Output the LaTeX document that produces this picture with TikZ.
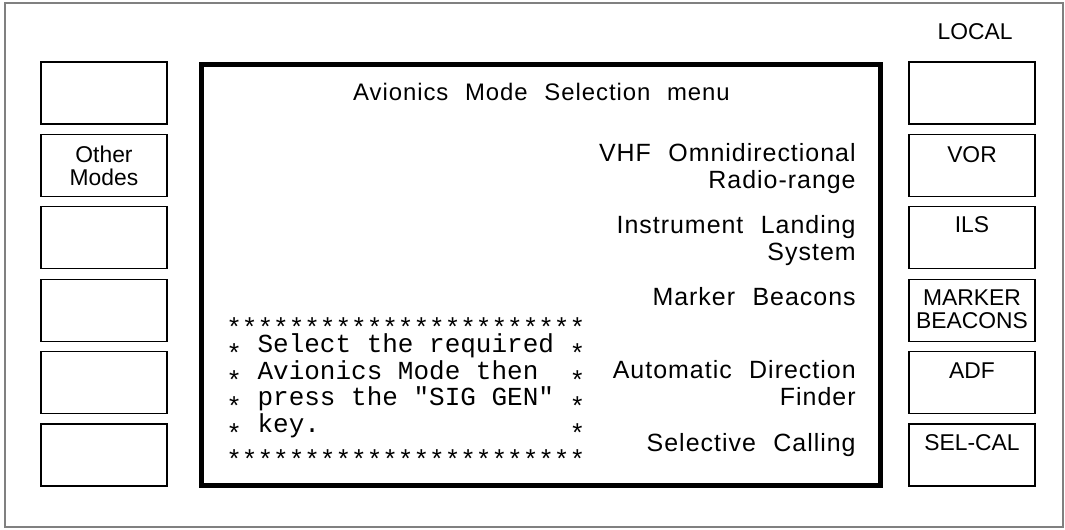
\documentclass[tikz,border=0pt]{standalone}
\usepackage{fontspec}
\setmainfont{Liberation Sans}
\setmonofont{Liberation Mono}
\newfontfamily\menufont{Liberation Sans}[LetterSpace=4, WordSpace=2.2]
\usetikzlibrary{positioning}

\newcommand{\lowstar}{\raisebox{-0.38em}[0.5em][0pt]{*}}
\newcommand{\starrow}{\foreach \k in {1,...,23}{\lowstar}}

\begin{document}
\begin{tikzpicture}[
			x = 0.02cm, y = -0.02cm,
			every node/.style = {inner sep = 0pt},
			softkey/.style = {draw, line width = 0.75pt, minimum width = 2.52cm, minimum height = 1.24cm},
			keytext/.style = {anchor = north, align = center, font = \fontsize{13}{12.8}\selectfont},
			menutext/.style = {anchor = north east, align = right, font = \menufont\fontsize{14.2}{15.4}\selectfont}
			]

			\useasboundingbox (0,0) rectangle (1065,529);
			\draw[gray, line width = 0.75pt] (5,3) rectangle (1063,527);

			% soft keys either side of the screen
			\foreach \i in {1,...,6}{
				\node[softkey] (l\i) at (104,{93 + 72.4*(\i-1)}) {};
				\node[softkey] (r\i) at (972,{93 + 72.4*(\i-1)}) {};
			}

			\node[draw, line width = 2.8pt, minimum width = 13.58cm, minimum height = 8.42cm] (screen) at (541,275) {};

			\node[anchor = base, font = \fontsize{13}{13}\selectfont] (local) at (975,39) {LOCAL};
			\node[keytext, below = 0.24cm of l2.north] (other) {Other\\Modes};
			\node[keytext, below = 0.24cm of r2.north] (vor) {VOR};
			\node[keytext, below = 0.20cm of r3.north] (ils) {ILS};
			\node[keytext, below = 0.22cm of r4.north] (marker) {MARKER\\BEACONS};
			\node[keytext, below = 0.22cm of r5.north] (adf) {ADF};
			\node[keytext, below = 0.22cm of r6.north] (selcal) {SEL-CAL};

			\node[anchor = base, font = \menufont\fontsize{13.6}{15}\selectfont] (title) at (541.5,100) {Avionics Mode Selection menu};
			\node[menutext] (vhf) at (856,143) {VHF Omnidirectional\\Radio-range};
			\node[menutext] (inst) at (856,215) {Instrument Landing\\System};
			\node[menutext] (beacons) at (856,287) {Marker Beacons};
			\node[menutext] (direction) at (856,360) {Automatic Direction\\Finder};
			\node[menutext] (calling) at (856,433) {Selective Calling};

			\node[anchor = north west, align = left, font = \ttfamily\fontsize{14.8}{15.1}\selectfont] (prompt) at (226,313) {%
				\starrow\\
				\lowstar~Select~the~required~\lowstar\\
				\lowstar~Avionics~Mode~then~~\lowstar\\
				\lowstar~press~the~"SIG~GEN"~\lowstar\\
				\lowstar~key.~~~~~~~~~~~~~~~~\lowstar\\
				\starrow};

		\end{tikzpicture}
\end{document}
